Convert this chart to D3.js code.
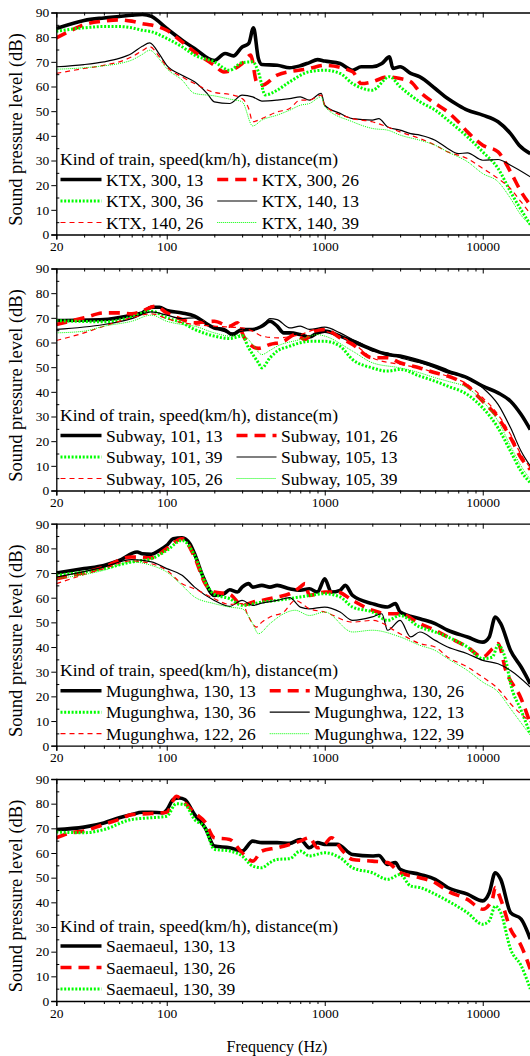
<!DOCTYPE html>
<html>
<head>
<meta charset="utf-8">
<script src="https://cdn.jsdelivr.net/npm/d3@7"></script>
<style>
body{margin:0;background:#fff}
svg text{font-family:"Liberation Serif",Tinos,"Times New Roman",Times,"DejaVu Serif",serif !important;fill:#000}
</style>
</head>
<body>
<svg id="chart" width="530" height="1056"></svg>
<script>
// values, [frequency Hz, dB]
var ktx300_13 = [[20,83.5],[30,86.8],[40,87.8],[50,88.4],[60,88.9],[70,89.2],[80,88.4],[100,83.5],[125,78.8],[150,75.4],[200,70.5],[234,73.4],[264,72.4],[300,76],[330,77.4],[354,83.8],[380,71.4],[400,68.9],[500,68.6],[600,67.6],[700,68.4],[800,69.7],[900,70.9],[1000,70.3],[1250,69.3],[1500,66.6],[1700,68],[2000,68],[2300,69.3],[2570,72],[2700,67.3],[3000,68],[3500,65.3],[4000,63.9],[5000,59.2],[6000,55.1],[7000,52.4],[8000,50.4],[10000,48.4],[12500,45.7],[15000,40.9],[17000,36.2],[20000,32.8]];
var ktx300_26 = [[20,79.7],[25,82.8],[30,85.1],[40,86.5],[50,87],[60,86.5],[70,85.5],[80,84.9],[100,82.8],[125,78.1],[150,74],[200,68.6],[230,65.9],[300,69.3],[340,72.7],[370,61.9],[400,60.5],[500,64.6],[800,67.3],[1000,68.6],[1500,66],[1700,61.2],[2000,61.9],[2500,63.9],[3000,63.2],[3500,61.9],[4000,57.8],[5000,53.1],[6000,49.7],[7000,45.7],[8000,41.6],[10000,36.2],[12500,33.5],[15000,25.4],[17500,17.3],[20000,11.9]];
var ktx300_36 = [[20,82.4],[30,83.8],[40,84.3],[50,84.3],[60,83.8],[70,82.8],[80,82.2],[100,79.5],[125,76.1],[150,72.7],[200,70],[250,66.6],[300,69.7],[350,70],[380,66],[420,56.6],[500,58.5],[600,61.9],[800,66],[1000,66.6],[1250,65.3],[1500,61.2],[2000,58.5],[2570,64],[3000,59.9],[4000,53.8],[5000,50.4],[6000,46.4],[8000,39.6],[10000,33.5],[12500,26.8],[15000,17.3],[20000,4]];
var ktx140_13 = [[20,68],[30,68.9],[40,70],[50,71.4],[60,73.4],[70,76.3],[78,77.7],[90,73],[100,68.6],[125,64.6],[150,61.9],[180,57.2],[200,53.8],[250,53.1],[300,56.5],[350,55.8],[400,54.1],[500,54.5],[600,55.1],[700,55.8],[800,54.5],[950,57.2],[1000,52.4],[1250,49.1],[1500,47],[2000,46.4],[2200,47],[2500,43.6],[3000,42.3],[3500,40.9],[4000,40.3],[5000,38.2],[6000,34.9],[7000,32.8],[8000,33.1],[10000,30.1],[12500,30.4],[15000,28.1],[20000,23.4]];
var ktx140_26 = [[20,65.3],[30,67.3],[40,68.6],[50,70],[60,72],[70,74.5],[78,76.1],[90,72],[100,68],[125,63.9],[150,61.2],[200,57.6],[250,56.8],[300,55.1],[330,51.1],[350,45.7],[400,47],[500,49.7],[600,51.1],[700,54.5],[800,54.5],[950,56.5],[1000,52.4],[1500,47],[2000,45.7],[2500,43.6],[3000,41.6],[4000,38.9],[5000,36.2],[6000,33.5],[8000,30.8],[10000,26.8],[12500,22.7],[15000,18.6],[17500,13.2],[20000,8.5]];
var ktx140_39 = [[20,67],[30,67.6],[40,68.4],[50,69.3],[60,70.7],[70,73],[78,74.7],[90,71],[100,67.3],[125,62.6],[150,57.2],[200,56.2],[250,54.9],[300,53.8],[350,44],[400,46.4],[500,48.4],[600,50.4],[700,52.4],[800,53.1],[950,55.8],[1000,51.8],[1500,45.7],[2000,43],[2500,42.3],[3000,40.3],[4000,38.2],[5000,36.2],[6000,33.5],[8000,29.5],[10000,24.7],[12500,21.4],[15000,14.6],[17500,7.8],[20000,3.8]];

var sub101_13 = [[20,68.9],[40,69.3],[60,71.1],[70,72],[80,74.3],[90,74.3],[100,73],[125,72],[150,70.7],[175,68],[200,65.9],[230,65.3],[260,63.2],[300,65.3],[350,65.3],[400,66.6],[450,68.6],[500,66.6],[550,63.9],[600,63.9],[700,63.2],[800,62.2],[900,63.9],[1000,64.6],[1250,62.6],[1500,60.5],[2000,57.2],[2500,55.1],[3000,54.5],[4000,52.4],[5000,50.4],[6000,48.4],[8000,45.7],[10000,42.3],[12500,39.6],[15000,36.2],[17500,30.8],[20000,24.7]];
var sub101_26 = [[20,67.3],[30,70],[40,72],[50,72],[60,71.6],[70,72.7],[85,74.7],[100,72],[125,69.3],[150,68],[200,68.6],[250,66.6],[280,68],[310,61.9],[380,57.6],[450,59.2],[550,60.5],[650,63.2],[750,61.2],[850,64.6],[1000,65.3],[1250,61.9],[1500,59.2],[2000,53.8],[2500,53.8],[3000,51.8],[4000,49.7],[5000,47.7],[6000,46.4],[8000,42.3],[10000,36.2],[12500,29.5],[15000,21.4],[17500,13.2],[20000,8.5]];
var sub101_39 = [[20,68.9],[40,68.4],[60,70.3],[80,72.7],[100,70],[125,68],[150,65.3],[200,62.6],[250,61.6],[300,62.6],[330,57.8],[380,51.8],[400,49.7],[450,53.8],[500,56.5],[600,58.5],[700,59.9],[800,60.5],[1000,60.5],[1250,58.5],[1500,53.1],[2000,49.7],[2500,48.4],[3000,49.1],[4000,46.4],[5000,44.3],[6000,42.3],[8000,38.9],[10000,33.5],[12500,25.4],[15000,15.9],[17500,7.8],[20000,3.1]];
var sub105_13 = [[20,65.3],[40,67.3],[60,69.7],[80,72.4],[100,71.1],[125,69.7],[150,70],[200,65.9],[260,63.9],[300,64.6],[400,66.6],[450,69.7],[500,69.3],[600,65.9],[700,66.6],[800,65.3],[1000,66.2],[1250,63.9],[1500,61.2],[1750,59.2],[2000,56.5],[2500,55.8],[3000,53.8],[4000,51.8],[5000,49.7],[6000,47.7],[8000,45.7],[10000,41.6],[12500,34.9],[15000,25.4],[17500,15.9],[20000,9.9]];
var sub105_26 = [[20,60.8],[30,63.9],[40,66.6],[60,70],[80,71.6],[100,69.7],[125,68],[150,67.3],[200,66.6],[300,65.9],[350,64.6],[400,62.6],[500,61.9],[700,63.2],[900,65.3],[1000,64.6],[1500,59.9],[2000,53.8],[3000,51.1],[4000,49.7],[5000,47.7],[6000,46.4],[8000,43],[10000,37.6],[12500,30.8],[15000,22.7],[17500,14.6],[20000,9.2]];
var sub105_39 = [[20,63.9],[30,64.6],[40,66.6],[60,68.6],[80,71.1],[100,68.6],[125,67.3],[150,66.6],[200,63.9],[250,62.6],[300,63.2],[350,59.2],[400,55.1],[450,56.8],[500,58.5],[700,61.2],[900,63.2],[1000,62.6],[1500,56.5],[2000,51.8],[3000,49.7],[4000,47.7],[5000,45.7],[6000,44.3],[8000,41.6],[10000,36.2],[12500,28.1],[15000,18],[17500,9.9],[20000,4.5]];

var mug130_13 = [[20,70],[30,71.8],[40,73.1],[50,75.1],[65,78.5],[70,77.8],[80,77.6],[90,79.2],[100,81.2],[110,83.9],[125,84.3],[140,81.9],[150,77.8],[170,68.4],[200,60.9],[230,61.6],[250,63.2],[280,62.3],[300,64.3],[330,65.7],[350,64.3],[400,65],[450,64.3],[500,65],[600,63.6],[700,63],[800,63.6],[900,62.3],[1000,67.7],[1100,62.3],[1250,63],[1350,65],[1500,60.9],[2000,57.6],[2500,56.2],[2800,57.6],[3000,54.2],[4000,51.5],[5000,49.5],[6000,46.8],[8000,44.1],[10000,42],[11000,44.1],[12000,52.2],[13000,49.5],[15000,38.6],[17500,31.9],[20000,25.1]];
var mug130_26 = [[20,67.7],[40,72.4],[60,76.5],[80,76.2],[100,79.9],[125,83.9],[150,76.5],[175,65.7],[200,62.3],[250,61.4],[300,56.9],[350,58.2],[400,58.9],[500,60.3],[600,61.6],[700,64.3],[750,65.7],[800,60.9],[1000,62.3],[1200,62.3],[1500,58.9],[2000,54.9],[2500,53.5],[3000,53.5],[4000,49.5],[5000,46.8],[6000,44.1],[8000,40],[10000,35.9],[11500,39.3],[12500,41.4],[14000,30.5],[17500,19.1],[20000,8.9]];
var mug130_36 = [[20,69.1],[40,71.8],[60,74.5],[80,75.8],[100,79.2],[125,83.2],[150,77.2],[175,66.4],[200,61.4],[250,59.6],[300,56.9],[400,58.2],[500,58.9],[700,60.3],[1000,61.6],[1250,60.3],[1500,56.2],[2000,54.2],[2500,50.8],[3000,52.8],[4000,48.1],[5000,46.1],[6000,44.1],[8000,40],[10000,35.3],[11500,35.9],[12500,40.7],[14000,34.6],[15000,25.1],[17500,14.3],[20000,4.9]];
var mug122_13 = [[20,68.4],[40,72.4],[60,75.4],[80,74.5],[100,71.8],[125,69.1],[150,64.3],[200,58.9],[250,56.5],[300,58.9],[350,56.9],[400,57.8],[500,58.9],[600,60],[700,56.2],[800,55.5],[1000,56.2],[1250,54.2],[1500,50.8],[2000,52.2],[2300,53.5],[2500,46.8],[3000,50.8],[3500,44.1],[4000,46.1],[5000,42.7],[6000,40],[8000,37.3],[10000,34.6],[12500,33.2],[15000,30.5],[20000,23.8]];
var mug122_26 = [[20,65.7],[40,71.8],[60,74.9],[80,73.8],[100,71.1],[125,65.7],[150,63.6],[200,59.6],[250,57.3],[300,57.6],[330,52.2],[370,48.1],[400,50.1],[450,52.2],[550,54.2],[650,58.9],[800,55.5],[1000,54.2],[1500,50.1],[2000,50.8],[3000,45.4],[4000,41.4],[5000,40],[6000,35.9],[8000,31.9],[10000,27.8],[12500,23.1],[15000,17],[20000,9.6]];
var mug122_39 = [[20,67.7],[40,71.1],[60,74.5],[80,73.1],[100,70.4],[125,65],[150,60.3],[200,57.6],[250,56.2],[300,55.5],[350,49.5],[380,45.4],[450,49.5],[550,53.5],[650,54.9],[800,52.8],[1000,54.2],[1500,46.1],[2000,46.8],[3000,44.1],[4000,40.7],[5000,38.6],[6000,35.3],[8000,30.5],[10000,25.8],[12500,21.8],[15000,15],[20000,4.2]];

var sae130_13 = [[20,69.5],[30,70.5],[40,72.2],[50,74.3],[60,75.6],[70,76.5],[80,76.5],[95,76.3],[100,77.4],[110,81.7],[120,82.3],[130,81.7],[150,75.6],[175,70.2],[200,62.8],[250,62.1],[300,60.8],[350,64.8],[400,64.2],[500,64.2],[600,63.9],[700,65.5],[800,62.1],[900,64.2],[1000,63.5],[1200,63.5],[1500,59.4],[2000,58.8],[2200,59],[2500,55.4],[2800,56.1],[3000,53.4],[4000,51.3],[5000,49.3],[6000,46],[8000,43.3],[10000,40.6],[11000,43.9],[12000,52],[13000,49.3],[15000,35.8],[17500,33.2],[20000,25.1]];
var sae130_26 = [[20,66.2],[25,68.2],[30,68.9],[40,71.6],[50,73.6],[60,75.6],[80,76],[100,76.5],[115,83],[130,80.3],[150,76.3],[175,72.5],[200,66.2],[250,65.5],[300,60.1],[350,56.7],[400,60.8],[500,62.1],[600,63.5],[700,64.8],[800,66.2],[900,62.1],[1000,63.5],[1100,66.2],[1300,60.8],[1500,57.4],[2000,56.7],[2500,56.1],[3000,52],[4000,50],[5000,48],[6000,44.6],[8000,41.2],[10000,37.2],[11500,41.2],[12000,46],[13000,41.2],[15000,29.1],[17500,22.4],[20000,12.9]];
var sae130_39 = [[20,68.5],[30,68.2],[40,69.5],[60,73.6],[80,74.3],[100,74.9],[115,80],[130,79.6],[150,73.6],[175,70.2],[200,61.5],[250,60.8],[300,58.8],[350,54.7],[400,54],[450,56.1],[500,57.4],[600,57.7],[700,60.8],[800,58.8],[1000,60.1],[1250,58.1],[1500,54],[2000,52],[2500,49.3],[3000,51.3],[3500,46.6],[4000,46],[5000,43.3],[6000,40.6],[8000,35.8],[10000,31.1],[11000,32.5],[12000,38.5],[13000,35.8],[15000,21],[17500,14.3],[20000,4.9]];

var xLabels = [20, 100, 1000, 10000];
var xMinor = [30,40,50,60,70,80,90,200,300,400,500,600,700,800,900,2000,3000,4000,5000,6000,7000,8000,9000,20000];
var yTicks = [0,10,20,30,40,50,60,70,80,90];
var yMinor = [5,15,25,35,45,55,65,75,85];
var legendTitle = "Kind of train, speed(km/h), distance(m)";

var serif = "'Liberation Serif', Tinos, 'Times New Roman', Times, 'DejaVu Serif', serif";

var styles = {
    thickSolid: {color:"#000000", width:3.6, dash:null},
    thickDash:  {color:"#ff0000", width:3.6, dash:"11,7"},
    thickDot:   {color:"#00ff00", width:3,   dash:"2,1.7"},
    thinSolid:  {color:"#000000", width:1.2, dash:null},
    thinDash:   {color:"#ff0000", width:1.2, dash:"5,4"},
    thinDot:    {color:"#00ff00", width:1,   dash:"1,1"}
};

var panels = [
    {top:12.5, series:[
        {name:"KTX, 300, 13", data:ktx300_13, style:"thickSolid"},
        {name:"KTX, 300, 26", data:ktx300_26, style:"thickDash"},
        {name:"KTX, 300, 36", data:ktx300_36, style:"thickDot"},
        {name:"KTX, 140, 13", data:ktx140_13, style:"thinSolid"},
        {name:"KTX, 140, 26", data:ktx140_26, style:"thinDash"},
        {name:"KTX, 140, 39", data:ktx140_39, style:"thinDot"}]},
    {top:268.5, series:[
        {name:"Subway, 101, 13", data:sub101_13, style:"thickSolid"},
        {name:"Subway, 101, 26", data:sub101_26, style:"thickDash"},
        {name:"Subway, 101, 39", data:sub101_39, style:"thickDot"},
        {name:"Subway, 105, 13", data:sub105_13, style:"thinSolid"},
        {name:"Subway, 105, 26", data:sub105_26, style:"thinDash"},
        {name:"Subway, 105, 39", data:sub105_39, style:"thinDot"}]},
    {top:523.7, series:[
        {name:"Mugunghwa, 130, 13", data:mug130_13, style:"thickSolid"},
        {name:"Mugunghwa, 130, 26", data:mug130_26, style:"thickDash"},
        {name:"Mugunghwa, 130, 36", data:mug130_36, style:"thickDot"},
        {name:"Mugunghwa, 122, 13", data:mug122_13, style:"thinSolid"},
        {name:"Mugunghwa, 122, 26", data:mug122_26, style:"thinDash"},
        {name:"Mugunghwa, 122, 39", data:mug122_39, style:"thinDot"}]},
    {top:779, series:[
        {name:"Saemaeul, 130, 13", data:sae130_13, style:"thickSolid"},
        {name:"Saemaeul, 130, 26", data:sae130_26, style:"thickDash"},
        {name:"Saemaeul, 130, 39", data:sae130_39, style:"thickDot"}], oneColumn:true}
];

var svg = d3.select("#chart");
var plotH = 222;
var xScale = d3.scaleLog().domain([20,20000]).range([56.3,530.3]);

panels.forEach(function(p, i){
    var bottom = p.top + plotH;
    var yScale = d3.scaleLinear().domain([0,90]).range([bottom, p.top]);
    var g = svg.append("g").attr("id","panel"+i);

    g.append("clipPath").attr("id","clip"+i)
      .append("rect")
        .attr("x", xScale(20)).attr("y", p.top)
        .attr("width", xScale(20000)-xScale(20)).attr("height", plotH);

    var line = d3.line()
        .x(function(d){ return xScale(d[0]); })
        .y(function(d){ return yScale(d[1]); })
        .curve(d3.curveMonotoneX);

    var curves = g.append("g").attr("clip-path","url(#clip"+i+")");
    p.series.forEach(function(s){
        var st = styles[s.style];
        curves.append("path")
            .datum(s.data)
            .attr("fill","none")
            .attr("stroke", st.color)
            .attr("stroke-width", st.width)
            .attr("stroke-dasharray", st.dash)
            .attr("stroke-linejoin","round")
            .attr("d", line);
    });

    // left axis: major out, minor in
    g.append("g").attr("transform","translate("+xScale(20)+",0)")
        .call(d3.axisLeft(yScale).tickValues(yTicks).tickSize(5).tickPadding(2));
    g.append("g").attr("transform","translate("+xScale(20)+",0)")
        .call(d3.axisLeft(yScale).tickValues(yMinor).tickSize(-3).tickFormat(""))
        .select(".domain").remove();

    // bottom axis
    g.append("g").attr("transform","translate(0,"+bottom+")")
        .call(d3.axisBottom(xScale).tickValues(xLabels).tickFormat(function(d){return d;}).tickSize(5).tickPadding(2));
    g.append("g").attr("transform","translate(0,"+bottom+")")
        .call(d3.axisBottom(xScale).tickValues(xMinor).tickSize(3).tickFormat(""))
        .select(".domain").remove();

    // top frame with inward ticks
    g.append("g").attr("transform","translate(0,"+p.top+")")
        .call(d3.axisTop(xScale).tickValues([100,1000,10000]).tickSize(-5).tickFormat(""));
    g.append("g").attr("transform","translate(0,"+p.top+")")
        .call(d3.axisTop(xScale).tickValues(xMinor).tickSize(-3).tickFormat(""))
        .select(".domain").remove();

    g.selectAll("g").attr("font-family", serif);
    g.selectAll(".domain").attr("stroke","#000").attr("stroke-width",1.3);
    g.selectAll(".tick line").attr("stroke","#000").attr("stroke-width",1);
    g.selectAll(".tick text").attr("font-size","13.5px")
        .style("font-family", serif).attr("fill","#000");

    g.append("text")
        .attr("transform","translate(16,"+(p.top+plotH/2+6)+") rotate(-90)")
        .attr("text-anchor","middle")
        .attr("dy","0.35em")
        .style("font-family", serif)
        .attr("font-size","18.5px")
        .text("Sound pressure level (dB)");

    // legend
    var leg = g.append("g");
    leg.append("text").attr("x",60).attr("y",bottom-75.5).attr("dy","0.35em")
        .style("font-family", serif)
        .attr("font-size","17.5px").text(legendTitle);
    var rowsY = [bottom-55, bottom-33.5, bottom-12];
    var col1 = [], col2 = [];
    p.series.forEach(function(s, k){
        if (p.oneColumn || k%2===0) col1.push(s); else col2.push(s);
    });
    function drawItem(s, x0, rowY, lineLen){
        var st = styles[s.style];
        leg.append("line")
            .attr("x1",x0).attr("x2",x0+lineLen).attr("y1",rowY).attr("y2",rowY)
            .attr("stroke",st.color).attr("stroke-width",st.width)
            .attr("stroke-dasharray",st.dash);
        return leg.append("text").attr("x",x0+lineLen+4.5).attr("y",rowY).attr("dy","0.35em")
            .style("font-family", serif)
            .attr("font-size","17.5px").text(s.name);
    }
    var maxEnd = 0;
    col1.forEach(function(s,k){
        var t = drawItem(s, 60.5, rowsY[k], 41);
        maxEnd = Math.max(maxEnd, 106 + t.node().getComputedTextLength());
    });
    col2.forEach(function(s,k){
        drawItem(s, maxEnd+14, rowsY[k], 40);
    });
});

svg.append("text")
    .attr("x",277).attr("y",1046).attr("dy","0.35em")
    .attr("text-anchor","middle").attr("font-size","16px")
    .style("font-family", serif)
    .text("Frequency (Hz)");
</script>
</body>
</html>
